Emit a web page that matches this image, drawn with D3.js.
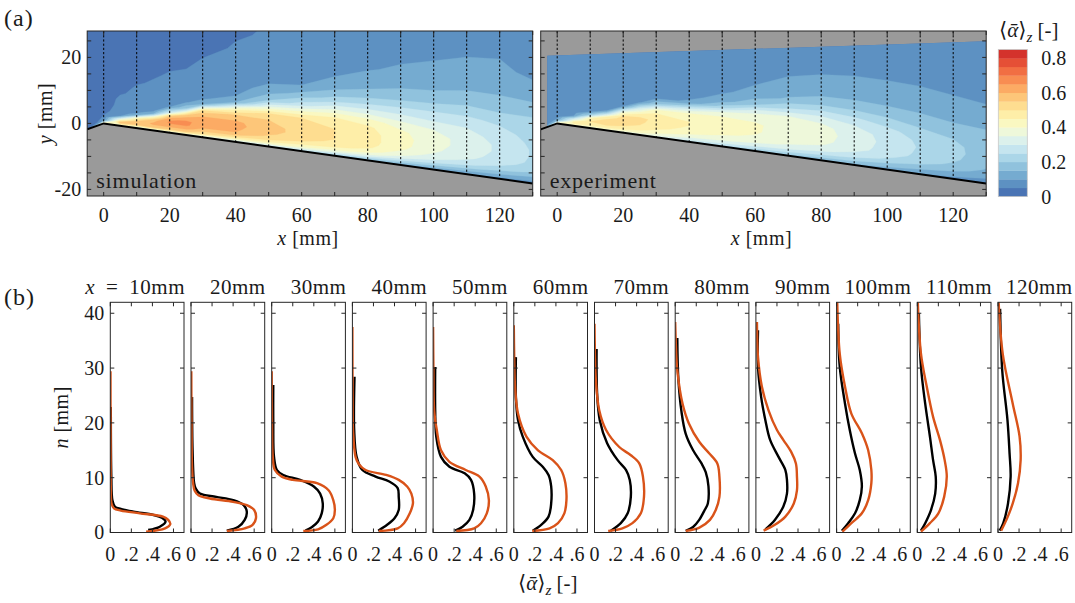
<!DOCTYPE html>
<html>
<head>
<meta charset="utf-8">
<script src="https://cdn.jsdelivr.net/npm/d3@7"></script>
<style>
  body { margin: 0; background: #fff; }
</style>
</head>
<body>
<svg id="fig" width="1075" height="603" font-family="'Liberation Serif', 'DejaVu Serif', serif" fill="#1a1a1a"></svg>
<script>
// ---------------- data ----------------
// profile stations (mm downstream of the edge)
const stations = [10, 20, 30, 40, 50, 60, 70, 80, 90, 100, 110, 120];

// simulation profiles: [n (mm), <alpha>_z]
const simProfiles = [
  [[0.15,0.34],[0.76,0.52],[1.55,0.57],[2.3,0.55],[2.9,0.5],[3.5,0.28],[4.0,0.1],[4.4,0.035],[5.3,0.012],[8,0.005],[15,0.003],[29.4,0.002]],
  [[0.27,0.34],[0.76,0.51],[1.4,0.585],[2.6,0.617],[4.1,0.6],[5.0,0.53],[5.6,0.4],[6.2,0.18],[6.8,0.07],[7.6,0.035],[9,0.02],[12,0.01],[20,0.005],[29.4,0.003]],
  [[0.27,0.3],[0.58,0.44],[1.4,0.52],[2.6,0.585],[4.1,0.6],[5.9,0.585],[7.7,0.54],[9.0,0.43],[9.6,0.2],[10.2,0.095],[11.4,0.03],[13.8,0.01],[20,0.003],[29.4,0.0]],
  [[0.27,0.25],[0.76,0.43],[1.7,0.49],[3.5,0.545],[5.3,0.575],[7.1,0.56],[8.4,0.52],[9.6,0.44],[10.5,0.32],[11.4,0.125],[12.5,0.06],[13.8,0.03],[18.7,0.006],[25,0.002],[37.5,0.0]],
  [[0.27,0.22],[0.76,0.39],[1.7,0.455],[3.5,0.51],[5.9,0.53],[8.4,0.5],[10.2,0.44],[11.4,0.31],[12.9,0.155],[15,0.075],[18.7,0.035],[22.3,0.01],[30,0.003],[37.5,0.0]],
  [[0.27,0.175],[0.76,0.34],[1.7,0.42],[3.5,0.48],[5.9,0.5],[9,0.49],[11.4,0.45],[13.2,0.37],[15,0.23],[17.5,0.12],[21.7,0.04],[26.6,0.012],[32,0.004],[37.8,0.0]],
  [[0.27,0.13],[0.76,0.265],[1.7,0.36],[3.5,0.44],[6.5,0.47],[10.2,0.46],[12.6,0.425],[14.1,0.345],[15.6,0.235],[18.7,0.11],[22.3,0.045],[27.8,0.013],[33,0.004],[38.1,0.0]],
  [[0.3,0.1],[0.9,0.23],[2.3,0.33],[4.1,0.385],[6.5,0.42],[10.2,0.42],[12.6,0.4],[14.5,0.32],[16.5,0.23],[19.9,0.13],[23.5,0.07],[29.6,0.02],[34,0.007],[38.4,0.0]],
  [[0.33,0.073],[1.4,0.18],[2.9,0.28],[5.3,0.36],[7.7,0.39],[10.2,0.39],[12.6,0.38],[14.7,0.335],[16.9,0.26],[18.7,0.2],[22.3,0.12],[26.6,0.057],[32,0.02],[38.4,0.01]],
  [[0.15,0.055],[1.7,0.14],[3.5,0.24],[5.9,0.3],[9,0.33],[11.4,0.33],[15,0.3],[18.1,0.24],[21.7,0.14],[26.6,0.08],[32.6,0.03],[42,0.006]],
  [[0.15,0.035],[1.7,0.12],[3.5,0.2],[6.5,0.255],[10.2,0.28],[13.2,0.26],[16.9,0.215],[21.1,0.15],[26.6,0.09],[32.6,0.035],[42,0.005]],
  [[0.33,0.03],[2.3,0.08],[5.3,0.14],[9,0.19],[13.2,0.215],[17.5,0.205],[23.5,0.14],[32.6,0.045],[42,0.006]]
];

// experiment profiles: [n (mm), <alpha>_z]
const expProfiles = [
  [[0.45,0.36],[1.06,0.47],[2.0,0.525],[2.7,0.49],[3.2,0.41],[3.8,0.22],[4.3,0.1],[4.7,0.045],[5.9,0.02],[10,0.01],[22.9,0.005]],
  [[0.33,0.34],[1.06,0.45],[2.3,0.51],[3.8,0.53],[5,0.5],[5.9,0.4],[6.5,0.24],[7.1,0.085],[8,0.045],[9,0.03],[15,0.015],[24.7,0.01]],
  [[0.33,0.32],[0.94,0.38],[2,0.44],[3.5,0.475],[5.3,0.485],[7.1,0.46],[8.4,0.4],[9.6,0.27],[10.5,0.11],[11.4,0.05],[13.8,0.022],[20,0.015],[26.9,0.015]],
  [[0.33,0.245],[1.4,0.33],[2.6,0.4],[4.1,0.44],[6.5,0.44],[8.1,0.43],[9.3,0.35],[10.2,0.22],[11.4,0.095],[13.8,0.04],[18.7,0.017],[28.4,0.02]],
  [[0.33,0.21],[1.06,0.28],[2.3,0.345],[4.1,0.38],[7.1,0.39],[9.6,0.36],[10.8,0.3],[12,0.155],[13.8,0.075],[17.5,0.03],[22.3,0.02],[30.2,0.02]],
  [[0.33,0.18],[1.4,0.26],[2.9,0.33],[5.3,0.355],[8.4,0.355],[10.5,0.33],[12,0.275],[13.8,0.18],[17.5,0.085],[20.5,0.04],[24.7,0.02],[32,0.02]],
  [[0.33,0.155],[1.7,0.25],[3.5,0.315],[6.5,0.345],[9.6,0.335],[11.4,0.3],[13.2,0.22],[16.3,0.12],[20.5,0.05],[25.3,0.025],[33.5,0.02]],
  [[0.3,0.1],[1,0.17],[2.3,0.228],[4.1,0.28],[5.3,0.31],[8.4,0.316],[11,0.29],[12.6,0.25],[15,0.17],[18,0.1],[22,0.06],[28,0.03],[35.5,0.02]],
  [[0.58,0.09],[2.3,0.18],[4.7,0.26],[7.1,0.295],[9.6,0.295],[11.4,0.28],[13.8,0.215],[16.9,0.135],[20.5,0.09],[24.7,0.05],[30.2,0.02],[36.9,0.02]],
  [[0.33,0.05],[1.7,0.11],[3.5,0.175],[5.9,0.22],[8.4,0.24],[11.4,0.22],[14.4,0.175],[18.7,0.125],[23.5,0.08],[30.2,0.03],[38.1,0.015]],
  [[0.33,0.035],[1.7,0.075],[4.1,0.13],[7.1,0.17],[10.2,0.175],[13.2,0.15],[17.5,0.12],[23.5,0.075],[30.2,0.035],[39.9,0.015]],
  [[0.33,0.016],[1.7,0.05],[5.3,0.095],[10.2,0.12],[14.4,0.11],[20.5,0.09],[29.6,0.04],[40.8,0.02]]
];

// wall contour (x, y in mm) and top edge of the measured window
const wallX = [-5, 0, 130];
const wallY = [-1.8, 0, -18.2];
const expTopX = [-3, 130];
const expTopY = [20.5, 24.9];

// mean void-fraction fields: one column per fieldX position,
// values at heights fieldH (mm above the wall)
const fieldX = [-5, 0, 5, 10, 15, 20, 25, 30, 40, 50, 60, 70, 80, 90, 100, 110, 120, 130];
const fieldH = [0, 1, 2, 3, 4, 5, 6, 8, 10, 12, 14, 17, 20, 24, 28, 33, 38, 44, 50];

const simField = [
  [0.02,0.02,0.02,0.02,0.02,0.02,0.02,0.02,0.02,0.02,0.02,0.02,0.02,0.02,0.02,0.02,0.02,0.02,0.02],
  [0.45,0.07,0.055,0.045,0.035,0.03,0.025,0.02,0.02,0.02,0.02,0.02,0.02,0.02,0.02,0.02,0.02,0.02,0.02],
  [0.4,0.58,0.35,0.09,0.075,0.07,0.065,0.06,0.045,0.035,0.03,0.02,0.02,0.02,0.02,0.02,0.02,0.02,0.02],
  [0.3,0.55,0.56,0.42,0.12,0.075,0.07,0.065,0.06,0.055,0.045,0.03,0.02,0.02,0.02,0.02,0.02,0.02,0.02],
  [0.32,0.58,0.61,0.58,0.42,0.15,0.08,0.07,0.065,0.06,0.055,0.045,0.03,0.02,0.02,0.02,0.02,0.02,0.02],
  [0.33,0.55,0.62,0.66,0.64,0.55,0.3,0.09,0.075,0.07,0.065,0.055,0.045,0.03,0.02,0.02,0.02,0.02,0.02],
  [0.33,0.55,0.62,0.66,0.66,0.62,0.55,0.2,0.09,0.075,0.07,0.06,0.05,0.04,0.025,0.02,0.02,0.02,0.02],
  [0.3,0.5,0.57,0.61,0.63,0.63,0.61,0.52,0.15,0.085,0.075,0.065,0.06,0.05,0.035,0.02,0.02,0.02,0.02],
  [0.28,0.45,0.55,0.6,0.61,0.615,0.61,0.56,0.42,0.15,0.1,0.08,0.07,0.06,0.055,0.045,0.03,0.02,0.02],
  [0.25,0.42,0.5,0.54,0.56,0.57,0.57,0.55,0.5,0.35,0.2,0.12,0.09,0.075,0.065,0.055,0.05,0.045,0.04],
  [0.22,0.38,0.45,0.5,0.52,0.53,0.53,0.53,0.5,0.4,0.28,0.17,0.1,0.085,0.075,0.065,0.06,0.055,0.05],
  [0.18,0.33,0.42,0.47,0.49,0.5,0.5,0.5,0.49,0.44,0.35,0.22,0.15,0.1,0.085,0.075,0.07,0.065,0.06],
  [0.15,0.28,0.38,0.43,0.46,0.47,0.47,0.47,0.46,0.42,0.35,0.25,0.17,0.12,0.095,0.082,0.075,0.07,0.065],
  [0.12,0.22,0.3,0.36,0.39,0.41,0.42,0.42,0.41,0.38,0.33,0.26,0.19,0.14,0.11,0.09,0.08,0.075,0.07],
  [0.1,0.18,0.25,0.3,0.33,0.35,0.36,0.37,0.37,0.35,0.31,0.26,0.2,0.15,0.12,0.1,0.085,0.08,0.075],
  [0.09,0.15,0.21,0.26,0.29,0.31,0.32,0.33,0.33,0.32,0.3,0.26,0.21,0.16,0.13,0.11,0.09,0.085,0.08],
  [0.08,0.13,0.18,0.22,0.25,0.27,0.28,0.29,0.29,0.28,0.27,0.24,0.2,0.16,0.13,0.11,0.095,0.085,0.08],
  [0.07,0.11,0.15,0.19,0.21,0.23,0.24,0.245,0.245,0.24,0.23,0.21,0.2,0.155,0.12,0.09,0.08,0.075,0.07]
];

const expField = [
  [0.07,0.07,0.07,0.07,0.07,0.07,0.07,0.07,0.07,0.07,0.07,0.07,0.07,0.07,0.07,0.07,0.07,0.07,0.07],
  [0.45,0.12,0.08,0.075,0.07,0.07,0.07,0.07,0.07,0.07,0.07,0.07,0.07,0.07,0.07,0.07,0.07,0.07,0.07],
  [0.4,0.48,0.3,0.1,0.08,0.075,0.07,0.07,0.07,0.07,0.07,0.07,0.07,0.07,0.07,0.07,0.07,0.07,0.07],
  [0.36,0.47,0.5,0.44,0.2,0.09,0.075,0.07,0.07,0.07,0.07,0.07,0.07,0.07,0.07,0.07,0.07,0.07,0.07],
  [0.36,0.48,0.52,0.52,0.46,0.25,0.1,0.075,0.07,0.07,0.07,0.07,0.07,0.07,0.07,0.07,0.07,0.07,0.07],
  [0.34,0.45,0.5,0.52,0.53,0.5,0.4,0.1,0.075,0.07,0.07,0.07,0.07,0.07,0.07,0.07,0.07,0.07,0.07],
  [0.33,0.43,0.48,0.5,0.51,0.51,0.48,0.3,0.085,0.075,0.07,0.07,0.07,0.07,0.07,0.07,0.07,0.07,0.07],
  [0.32,0.39,0.44,0.47,0.48,0.49,0.48,0.43,0.2,0.08,0.075,0.07,0.07,0.07,0.07,0.07,0.07,0.07,0.07],
  [0.26,0.33,0.39,0.42,0.44,0.45,0.45,0.44,0.3,0.11,0.085,0.075,0.07,0.07,0.07,0.07,0.07,0.07,0.07],
  [0.22,0.3,0.36,0.39,0.41,0.42,0.42,0.42,0.38,0.22,0.12,0.09,0.08,0.075,0.07,0.07,0.07,0.07,0.07],
  [0.19,0.27,0.33,0.37,0.39,0.4,0.405,0.405,0.39,0.33,0.2,0.12,0.1,0.085,0.075,0.07,0.07,0.07,0.07],
  [0.17,0.24,0.3,0.34,0.36,0.375,0.38,0.385,0.38,0.35,0.26,0.16,0.12,0.1,0.085,0.075,0.07,0.07,0.07],
  [0.15,0.21,0.27,0.31,0.34,0.355,0.365,0.37,0.365,0.34,0.28,0.19,0.14,0.11,0.09,0.08,0.075,0.075,0.075],
  [0.13,0.19,0.24,0.28,0.3,0.32,0.325,0.33,0.325,0.3,0.26,0.19,0.145,0.115,0.095,0.08,0.075,0.075,0.075],
  [0.11,0.16,0.2,0.24,0.26,0.275,0.28,0.285,0.28,0.265,0.23,0.18,0.14,0.115,0.095,0.085,0.075,0.075,0.075],
  [0.09,0.13,0.17,0.2,0.22,0.235,0.24,0.245,0.24,0.225,0.2,0.165,0.135,0.11,0.095,0.085,0.075,0.075,0.075],
  [0.08,0.11,0.14,0.17,0.19,0.2,0.21,0.215,0.21,0.2,0.18,0.15,0.125,0.105,0.09,0.08,0.075,0.075,0.075],
  [0.07,0.09,0.11,0.13,0.145,0.155,0.165,0.175,0.18,0.175,0.165,0.145,0.12,0.1,0.085,0.075,0.07,0.07,0.07]
];

// colour levels of the contour maps and colorbar ticks
const levels = d3.range(17).map(k => k / 20);   // 0, 0.05, ... 0.80
const levelStep = 0.05;
const cbarTicks = [0, 0.2, 0.4, 0.6, 0.8];
const cbarTickLabels = ["0", "0.2", "0.4", "0.6", "0.8"];

// axis ticks
const mapXTicks = d3.range(0, 131, 10);
const mapXLabels = [0, 20, 40, 60, 80, 100, 120];
const mapYTicks = d3.range(-20, 28, 5);
const mapYLabels = [-20, 0, 20];
const profXTicks = [0, 0.2, 0.4, 0.6];
const profXLabels = ["0", ".2", ".4", ".6"];
const profYTicks = [0, 10, 20, 30, 40];
const dashStations = d3.range(0, 121, 10);

// ---------------- drawing ----------------
const svg = d3.select("#fig");
const ink = "#262626";
const orange = "#d95319";
const grey = "#9a9a9a";
const fs = 20;       // tick label size
const ls = "0.5px";  // letter spacing for words
const bandColor = k => d3.interpolateRdYlBu(0.9 - k * 0.05);

const wall = d3.scaleLinear().domain(wallX).range(wallY);

// map panels
const mapW = 445.5, mapH = 165, mapTop = 31;
const mapLefts = [87.2, 540.7];
const xMap = d3.scaleLinear().domain([-5, 130]).range([0, mapW]);
const yMap = d3.scaleLinear().domain([-22, 28]).range([mapH, 0]);

const nx = fieldX.length, ny = fieldH.length;
const colIdx = d3.scaleLinear().domain(d3.range(nx)).range(fieldX).clamp(true);
const rowIdx = d3.scaleLinear().domain(d3.range(ny)).range(fieldH).clamp(true);

function gridPoint(p) {
  const x = colIdx(p[0] - 0.5);
  const h = rowIdx(p[1] - 0.5);
  return [xMap(x), yMap(wall(x) + h)];
}

function contourPath(mp) {
  return mp.coordinates.map(poly => poly.map(ring =>
    "M" + ring.map(p => gridPoint(p).map(v => v.toFixed(2)).join(",")).join("L") + "Z"
  ).join("")).join("");
}

function drawMap(idx, field, label) {
  const g = svg.append("g").attr("transform", `translate(${mapLefts[idx]},${mapTop})`);
  const clipId = "mapclip" + idx;
  g.append("clipPath").attr("id", clipId).append("rect")
    .attr("width", mapW).attr("height", mapH);
  const inner = g.append("g").attr("clip-path", `url(#${clipId})`);

  inner.append("rect").attr("width", mapW).attr("height", mapH).attr("fill", grey);

  const values = new Array(nx * ny);
  for (let j = 0; j < ny; j++)
    for (let i = 0; i < nx; i++) values[j * nx + i] = field[i][j];
  const thresholds = levels.map((v, k) => k === 0 ? -1 : v);
  const bands = d3.contours().size([nx, ny]).thresholds(thresholds)(values);

  let layer = inner.append("g");
  if (idx === 1) {
    const dataId = "datclip" + idx;
    const win = [[expTopX[0], -22], [expTopX[0], expTopY[0]], [expTopX[1], expTopY[1]], [expTopX[1], -22]];
    g.append("clipPath").attr("id", dataId).append("path")
      .attr("d", "M" + win.map(p => [xMap(p[0]), yMap(p[1])].join(",")).join("L") + "Z");
    layer = inner.append("g").attr("clip-path", `url(#${dataId})`);
  }
  layer.selectAll("path.band").data(bands).join("path")
    .attr("class", "band")
    .attr("d", contourPath)
    .attr("fill", (d, k) => bandColor(k))
    .attr("stroke", (d, k) => bandColor(k)).attr("stroke-width", 0.3)
    .attr("fill-rule", "evenodd");

  // solid body below the wall
  const body = [[-5, -22]].concat(wallX.map((x, i) => [x, wallY[i]])).concat([[130, -22]]);
  inner.append("path")
    .attr("d", "M" + body.map(p => [xMap(p[0]), yMap(p[1])].join(",")).join("L") + "Z")
    .attr("fill", grey);

  // profile stations
  inner.selectAll("line.st").data(dashStations).join("line")
    .attr("x1", d => xMap(d)).attr("x2", d => xMap(d))
    .attr("y1", 0).attr("y2", d => yMap(wall(d)))
    .attr("stroke", "#000").attr("stroke-width", 1).attr("stroke-dasharray", "2.2,2");

  inner.append("path")
    .attr("d", d3.line().x(d => xMap(d[0])).y(d => yMap(d[1]))(wallX.map((x, i) => [x, wallY[i]])))
    .attr("fill", "none").attr("stroke", "#000").attr("stroke-width", 2);

  g.append("text").attr("x", 9).attr("y", 157).style("font-size", "22px")
    .style("letter-spacing", "0.8px").text(label);

  // frame and ticks
  g.append("rect").attr("width", mapW).attr("height", mapH)
    .attr("fill", "none").attr("stroke", ink).attr("stroke-width", 1);
  const tl = 4;
  g.selectAll("line.xt").data(mapXTicks.flatMap(t => [[t, 0], [t, mapH]])).join("line")
    .attr("x1", d => xMap(d[0])).attr("x2", d => xMap(d[0]))
    .attr("y1", d => d[1]).attr("y2", d => d[1] === 0 ? tl : mapH - tl)
    .attr("stroke", ink).attr("stroke-width", 1);
  g.selectAll("line.yt").data(mapYTicks.flatMap(t => [[t, 0], [t, mapW]])).join("line")
    .attr("y1", d => yMap(d[0])).attr("y2", d => yMap(d[0]))
    .attr("x1", d => d[1]).attr("x2", d => d[1] === 0 ? tl : mapW - tl)
    .attr("stroke", ink).attr("stroke-width", 1);

  g.selectAll("text.xl").data(mapXLabels).join("text")
    .attr("x", d => xMap(d)).attr("y", 191).attr("text-anchor", "middle")
    .style("font-size", fs + "px").text(d => d);

  const xl = g.append("text").attr("x", mapW / 2 - 2).attr("y", 214).attr("text-anchor", "middle")
    .style("font-size", fs + "px").style("letter-spacing", ls);
  xl.append("tspan").style("font-style", "italic").text("x");
  xl.append("tspan").text(" [mm]");

  if (idx === 0) {
    g.selectAll("text.yl").data(mapYLabels).join("text")
      .attr("x", -6).attr("y", d => yMap(d) + 7).attr("text-anchor", "end")
      .style("font-size", fs + "px").text(d => d);
    const yl = g.append("text").attr("transform", `translate(-35,${mapH / 2}) rotate(-90)`)
      .attr("text-anchor", "middle").style("font-size", fs + "px").style("letter-spacing", ls);
    yl.append("tspan").style("font-style", "italic").text("y");
    yl.append("tspan").text(" [mm]");
  }
}

drawMap(0, simField, "simulation");
drawMap(1, expField, "experiment");

// colorbar
const cb = svg.append("g").attr("transform", "translate(998.3,0)");
const cbW = 29;
const yCb = d3.scaleLinear().domain([0, 0.85]).range([196.5, 49.5]);
cb.selectAll("rect.cb").data(levels).join("rect")
  .attr("x", 0).attr("width", cbW)
  .attr("y", d => yCb(d + levelStep)).attr("height", d => yCb(d) - yCb(d + levelStep) + 0.3)
  .attr("fill", (d, k) => bandColor(k));
cb.append("rect").attr("x", 0).attr("y", yCb(0.85)).attr("width", cbW).attr("height", yCb(0) - yCb(0.85))
  .attr("fill", "none").attr("stroke", "#c8c8c8").attr("stroke-width", 0.8);
cb.selectAll("text.cbl").data(cbarTicks).join("text")
  .attr("x", 43).attr("y", d => yCb(d) + 7).style("font-size", fs + "px")
  .text((d, i) => cbarTickLabels[i]);

function alphaLabel(sel, x, y, size) {
  const t = sel.append("text").attr("x", x).attr("y", y).style("font-size", size + "px");
  t.append("tspan").text("\u27E8");
  t.append("tspan").style("font-style", "italic").text("\u1FB1");
  t.append("tspan").text("\u27E9");
  t.append("tspan").style("font-style", "italic").style("font-size", (size * 0.72) + "px")
    .attr("dy", size * 0.22).text("z");
  t.append("tspan").attr("dy", -size * 0.22).text(" [-]");
  return t;
}
alphaLabel(svg, 999, 37, fs + 1);

// panel letters
svg.append("text").attr("x", 4).attr("y", 26).style("font-size", "24px").style("letter-spacing", "1px").text("(a)");
svg.append("text").attr("x", 4).attr("y", 305).style("font-size", "24px").style("letter-spacing", "1px").text("(b)");

// profile panels
const pLeft0 = 110.3, pStep = 80.7, pW = 73.7, pTop = 302.3, pH = 230.2;
const xP = d3.scaleLinear().domain([0, 0.7]).range([0, pW]);
const yP = d3.scaleLinear().domain([0, 42]).range([pH, 0]);
const profLine = d3.line().x(d => xP(d[1])).y(d => yP(d[0])).curve(d3.curveCatmullRom.alpha(0.5));

stations.forEach((st, i) => {
  const g = svg.append("g").attr("transform", `translate(${pLeft0 + i * pStep},${pTop})`);
  const cid = "pclip" + i;
  g.append("clipPath").attr("id", cid).append("rect").attr("width", pW).attr("height", pH);
  const inner = g.append("g").attr("clip-path", `url(#${cid})`);
  inner.append("path").attr("d", profLine(expProfiles[i]))
    .attr("fill", "none").attr("stroke", "#000").attr("stroke-width", 2.4);
  inner.append("path").attr("d", profLine(simProfiles[i]))
    .attr("fill", "none").attr("stroke", orange).attr("stroke-width", 2.4);

  g.append("rect").attr("width", pW).attr("height", pH)
    .attr("fill", "none").attr("stroke", ink).attr("stroke-width", 1);
  const tl = 4;
  g.selectAll("line.xt").data(profXTicks.flatMap(t => [[t, 0], [t, pH]])).join("line")
    .attr("x1", d => xP(d[0])).attr("x2", d => xP(d[0]))
    .attr("y1", d => d[1]).attr("y2", d => d[1] === 0 ? tl : pH - tl)
    .attr("stroke", ink).attr("stroke-width", 1);
  g.selectAll("line.yt").data(profYTicks.flatMap(t => [[t, 0], [t, pW]])).join("line")
    .attr("y1", d => yP(d[0])).attr("y2", d => yP(d[0]))
    .attr("x1", d => d[1]).attr("x2", d => d[1] === 0 ? tl : pW - tl)
    .attr("stroke", ink).attr("stroke-width", 1);

  g.selectAll("text.xl").data(profXTicks).join("text")
    .attr("x", d => xP(d)).attr("y", pH + 29).attr("text-anchor", "middle")
    .style("font-size", fs + "px").text((d, k) => profXLabels[k]);

  const title = g.append("text").attr("x", pW + 1).attr("y", -8).attr("text-anchor", "end")
    .style("font-size", "21px").style("letter-spacing", ls);
  if (i === 0) {
    title.append("tspan").style("font-style", "italic").text("x");
    title.append("tspan").text("\u2002=\u2002" + st + "mm");
  } else {
    title.text(st + "mm");
  }

  if (i === 0) {
    g.selectAll("text.yl").data(profYTicks).join("text")
      .attr("x", -6).attr("y", d => yP(d) + 7).attr("text-anchor", "end")
      .style("font-size", fs + "px").text(d => d);
    const nl = g.append("text").attr("transform", `translate(-42,${pH / 2}) rotate(-90)`)
      .attr("text-anchor", "middle").style("font-size", fs + "px").style("letter-spacing", ls);
    nl.append("tspan").style("font-style", "italic").text("n");
    nl.append("tspan").text(" [mm]");
  }
});

alphaLabel(svg, 518, 590, fs + 1);
</script>
</body>
</html>
